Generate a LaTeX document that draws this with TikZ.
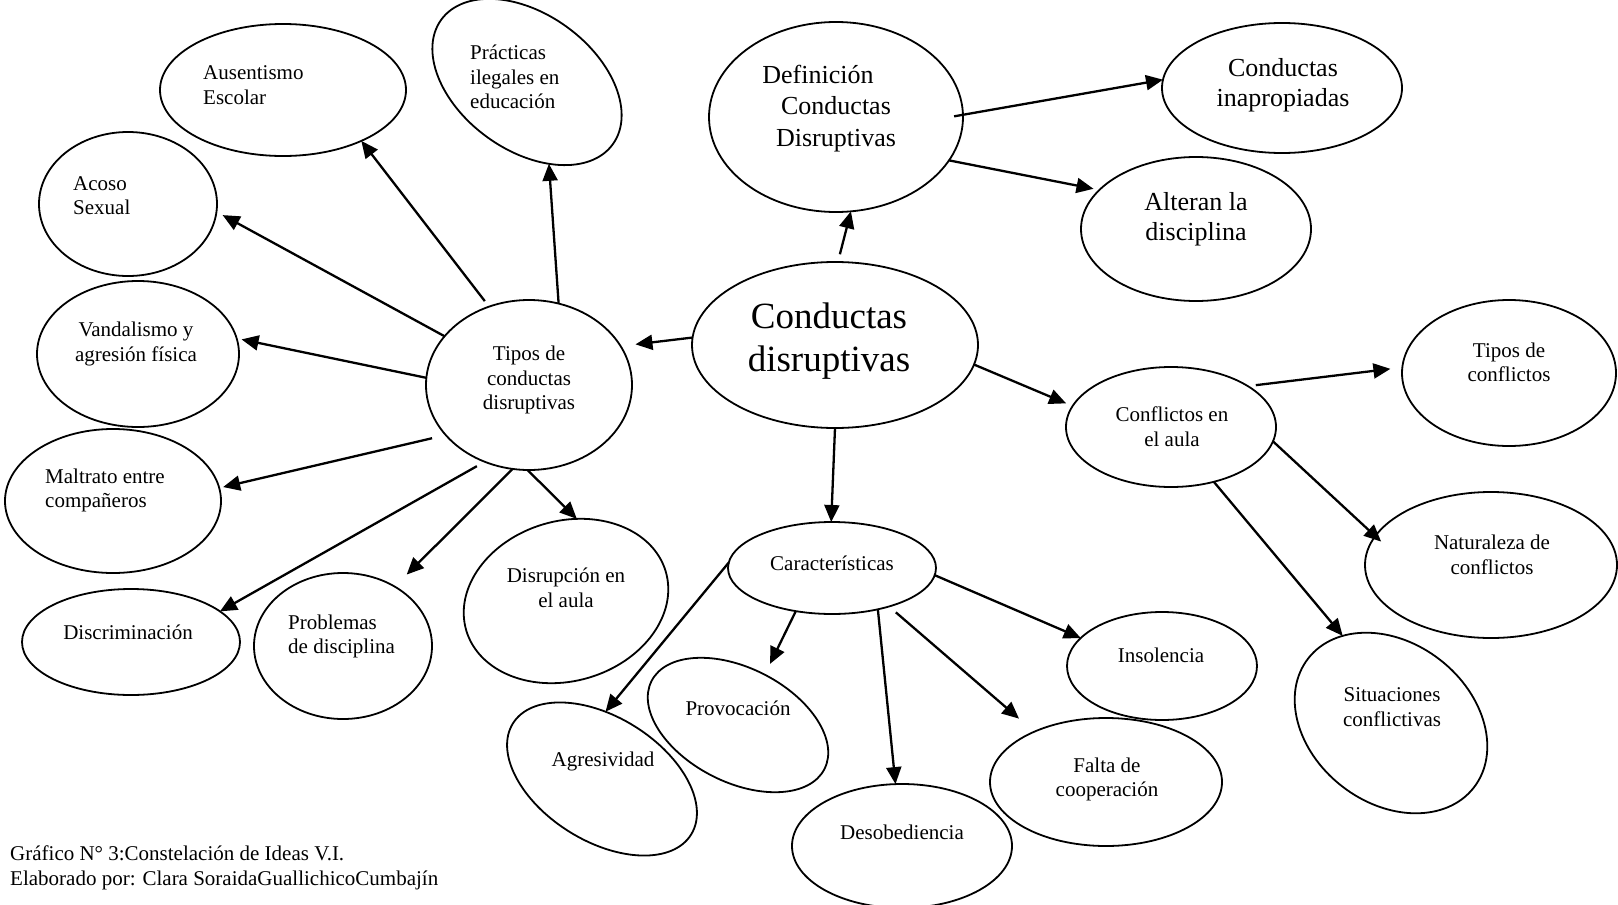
\documentclass[tikz,border=0pt]{standalone}
\usepackage{fontspec}
\setmainfont{Liberation Serif}
\usetikzlibrary{shapes.geometric,arrows.meta}
\begin{document}
\begin{tikzpicture}[x=1pt,y=-1pt,
  ell/.style={draw, ellipse, line width=1.8pt, inner sep=0pt, outer sep=0pt},
  sm/.style={font=\fontsize{21}{24.5}\selectfont, inner sep=0pt, align=center},
  smL/.style={sm, align=left, anchor=west},
  md/.style={font=\fontsize{26}{30.5}\selectfont, inner sep=0pt, align=center},
  bg/.style={font=\fontsize{37}{43}\selectfont, inner sep=0pt, align=center},
  arr/.style={line width=2.3pt, -{Triangle[length=17pt,width=15pt]}}]
\useasboundingbox (0,0) rectangle (1618,905);
% ellipses
\node[ell, minimum width=246pt, minimum height=132pt] (aus) at (283,90) {};
\node[ell, minimum width=212pt, minimum height=136pt, rotate=-36] (prac) at (527,82) {};
\node[ell, minimum width=178pt, minimum height=144pt] (acoso) at (128,204) {};
\node[ell, minimum width=202pt, minimum height=146pt] (vand) at (138,354) {};
\node[ell, minimum width=206pt, minimum height=170pt] (tipos) at (529,385) {};
\node[ell, minimum width=216pt, minimum height=144pt] (maltr) at (113,501) {};
\node[ell, minimum width=218pt, minimum height=106pt] (discr) at (131,642) {};
\node[ell, minimum width=178pt, minimum height=146pt] (probl) at (343,646) {};
\node[ell, minimum width=208pt, minimum height=160pt, rotate=16.5] (disr) at (566,601) {};
\node[ell, minimum width=286pt, minimum height=166pt] (central) at (835,345) {};
\node[ell, minimum width=254pt, minimum height=190pt] (defi) at (836,117) {};
\node[ell, minimum width=240pt, minimum height=130pt] (inap) at (1282,88) {};
\node[ell, minimum width=230pt, minimum height=144pt] (alter) at (1196,229) {};
\node[ell, minimum width=210pt, minimum height=120pt] (confl) at (1171,427) {};
\node[ell, minimum width=214pt, minimum height=146pt] (tconf) at (1509,373) {};
\node[ell, minimum width=252pt, minimum height=146pt] (natur) at (1491,565) {};
\node[ell, minimum width=210pt, minimum height=160pt, rotate=-38] (situ) at (1391,723) {};
\node[ell, minimum width=208pt, minimum height=92pt] (carac) at (832,568) {};
\node[ell, minimum width=210pt, minimum height=124pt, rotate=-32] (agres) at (602,779) {};
\node[ell, minimum width=194pt, minimum height=114pt, rotate=-27] (provo) at (738,725) {};
\node[ell, minimum width=220pt, minimum height=124pt] (desob) at (902,846) {};
\node[ell, minimum width=190pt, minimum height=108pt] (insol) at (1162,666) {};
\node[ell, minimum width=232pt, minimum height=128pt] (falta) at (1106,782) {};
% texts
\node[smL] (aust) at (203,85) {Ausentismo\\Escolar};
\node[smL] (pract) at (470,77) {Prácticas\\ilegales en\\educación};
\node[smL] (acosot) at (73,195.5) {Acoso\\Sexual};
\node[sm] (vandt) at (136,344) {Vandalismo y\\agresión física};
\node[sm] (tipost) at (529,380) {Tipos de\\conductas\\disruptivas};
\node[smL] (maltrt) at (45,490.5) {Maltrato entre\\compañeros};
\node[sm] (discrt) at (128,632) {Discriminación};
\node[smL] (problt) at (288,636.5) {Problemas\\de disciplina};
\node[sm] (disrt) at (566,588) {Disrupción en\\el aula};
\node[bg] (centralt) at (829,341.5) {Conductas\\disruptivas};
\node[md, font=\fontsize{26}{31.5}\selectfont] (defit) at (836,108.5) {Definición\hspace*{36pt}\\Conductas\\Disruptivas};
\node[md] (inapt) at (1283,85) {Conductas\\inapropiadas};
\node[md] (altert) at (1196,219) {Alteran la\\disciplina};
\node[sm] (conflt) at (1172,426.5) {Conflictos en\\el aula};
\node[sm] (tconft) at (1509,362.5) {Tipos de\\conflictos};
\node[sm] (naturt) at (1492,555) {Naturaleza de\\conflictos};
\node[sm] (situt) at (1392,707) {Situaciones\\conflictivas};
\node[sm] (caract) at (832,563) {Características};
\node[sm] (agrest) at (603,761) {Agresividad};
\node[sm] (provot) at (738,708) {Provocación};
\node[sm] (desobt) at (902,832) {Desobediencia};
\node[sm] (insolt) at (1161,655) {Insolencia};
\node[sm] (faltat) at (1107,779.5) {Falta de\\cooperación};
\node[smL, font=\fontsize{21}{25}\selectfont] (foot) at (10,867.5) {Gráfico N° 3:Constelación de Ideas V.I.\\Elaborado por: Clara SoraidaGuallichicoCumbajín};
% arrows
\draw[arr, shorten >=15pt] (central.177) -- (tipos.23);
\draw[arr, shorten <=8pt] (central.88) -- (defi.-81);
\draw[arr, shorten >=7pt] (central.-8) -- (confl.168);
\draw[arr] (central.-90) -- (carac.91);
\draw[arr, shorten <=-9pt] (defi.1) -- (inap.176);
\draw[arr, shorten >=6pt] (defi.-21) -- (alter.158);
\draw[arr, shorten <=8pt, shorten >=12pt] (confl.28) -- (tconf.177);
\draw[arr, shorten >=-8pt] (confl.-8) -- (natur.166);
\draw[arr] (confl.-52) -- (situ.157);
\draw[arr, shorten <=7pt] (tipos.117) -- (aus.-33);
\draw[arr] (tipos.70) -- (prac.-39);
\draw[arr, shorten >=7pt] (tipos.150) -- (acoso.-5);
\draw[arr, shorten >=5pt] (tipos.176) -- (vand.9);
\draw[arr, shorten <=14pt, shorten >=4pt] (tipos.211) -- (maltr.7);
\draw[arr, shorten <=9pt] (tipos.240) -- (discr.19);
\draw[arr, shorten >=17pt] (tipos.259) -- (probl.49);
\draw[arr] (tipos.-91) -- (disr.66);
\draw[arr] (carac.177) -- (agres.119);
\draw[arr, shorten >=12pt] (carac.-130) -- (provo.89);
\draw[arr] (carac.-42) -- (desob.96);
\draw[arr, shorten <=9pt, shorten >=20pt] (carac.-34) -- (falta.145);
\draw[arr] (carac.-4) -- (insol.161);
\end{tikzpicture}
\end{document}
